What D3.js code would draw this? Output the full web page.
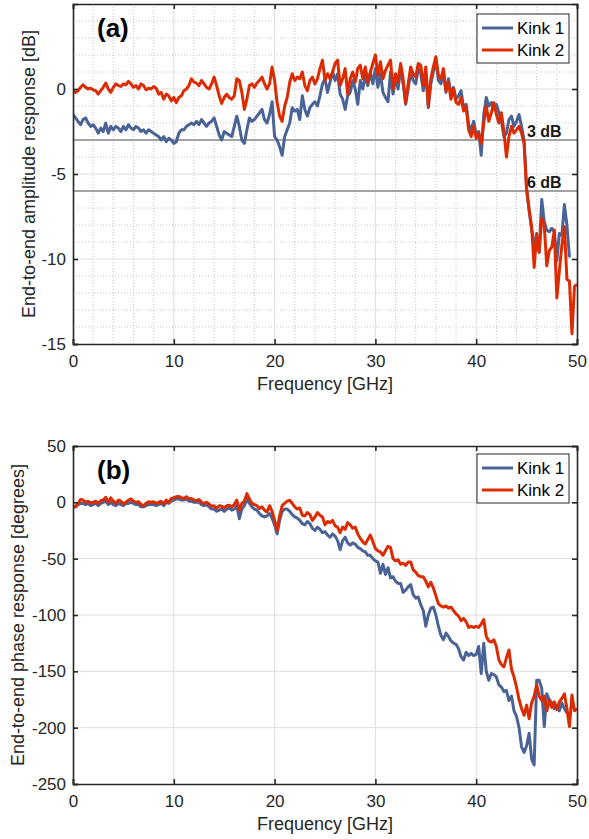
<!DOCTYPE html>
<html>
<head>
<meta charset="utf-8">
<script src="https://cdn.jsdelivr.net/npm/d3@7"></script>
<style>
  html, body { margin: 0; padding: 0; background: #fff; }
  svg { display: block; }
  text { font-family: "Liberation Sans", Arial, sans-serif; fill: #262626; }
</style>
</head>
<body>
<svg id="chart" width="589" height="839"></svg>
<script>
// Frequency step of the measured traces [GHz]
const freqStep = 0.25;

// Amplitude response [dB], sampled every 0.25 GHz from 0 GHz
const ampKink1 = [
  -1.5,-1.7,-1.9,-2.1, -1.8,-1.7,-2.0,-2.2, -2.1,-2.3,-2.6,-2.3, -2.5,-2.0,-2.6,-2.2,
  -2.4,-2.2,-2.3,-2.5, -2.2,-2.4,-2.1,-2.3, -2.4,-2.2,-2.3,-2.5, -2.4,-2.6,-2.4,-2.5,
  -2.6,-2.7,-2.8,-3.0, -2.8,-3.1,-2.9,-3.0, -3.2,-3.1,-2.6,-2.4, -2.4,-2.2,-2.1,-2.0,
  -2.1,-1.9,-2.1,-1.8, -2.0,-2.2,-2.0,-1.9, -1.7,-2.2,-2.7,-3.0, -2.5,-2.6,-2.7,-2.8,
  -2.2,-1.6,-2.2,-3.0, -3.2,-2.4,-1.7,-1.9, -1.8,-1.6,-1.4,-1.2, -1.8,-2.0,-1.5,-0.75,
  -2.8,-3.0,-3.4,-3.9, -2.8,-2.4,-2.0,-1.1, -1.3,-1.2,-1.8,-0.4, -1.2,-1.6,-1.1,-0.9,
  -0.75,-1.0,-0.4,0.3, 0.6,-0.2,0.4,1.0, 0.5,0.9,-0.3,-0.6, -1.2,-0.4,-0.2,0.5,
  0.0,-0.9,0.5,0.0, 0.8,0.2,1.0,0.3, 1.2,0.1,0.9,-0.2, -0.5,-0.75,1.0,-0.3,
  0.6,0.0,1.2,0.3, -0.9,0.0,1.0,0.5, 0.3,1.2,0.9,-0.1, 1.0,-1.1,0.3,1.0,
  1.7,0.5,0.3,1.0, -0.2,0.6,-0.3,0.1, -0.6,-0.4,-0.1,-1.1, -0.9,-2.1,-2.4,-1.9,
  -2.7,-2.5,-3.9,-1.5, -0.5,-1.0,-0.8,-1.2, -0.9,-1.4,-1.9,-2.8, -2.6,-1.8,-1.6,-2.2,
  -1.9,-1.5,-2.2,-3.0, -5.9,-7.1,-8.3,-9.0, -9.3,-9.6,-6.5,-7.8, -8.3,-8.4,-8.2,-8.4,
  -10.1,-8.5,-8.6,-6.8, -8.0,-9.9
];
const ampKink2 = [
  -0.1,-0.2,-0.1,0.1, 0.25,0.1,0.0,0.05, -0.05,-0.1,-0.3,-0.1, 0.1,0.35,0.0,-0.2,
  0.1,0.3,0.2,0.15, 0.3,0.25,0.45,0.3, 0.1,0.2,0.0,0.3, 0.2,-0.05,0.05,0.0,
  0.15,0.05,-0.3,-0.2, -0.6,-0.3,-0.4,-0.7, -0.5,-0.8,-0.5,-0.4, -0.1,0.0,0.2,0.6,
  0.4,0.35,0.2,0.5, 0.3,0.1,0.0,0.3, 0.7,0.2,-0.4,-0.85, -0.5,-0.3,-0.5,-0.6,
  -0.4,0.6,0.5,-0.2, -1.2,-0.6,0.2,0.3, 0.1,0.35,0.5,0.7, 0.3,0.0,0.3,1.3,
  0.5,-0.8,-1.6,-1.9, -1.0,-0.5,0.4,0.9, 0.5,0.7,0.6,1.0, 0.2,-0.1,0.5,0.7,
  0.3,0.6,1.2,1.7, 0.5,0.9,0.6,1.0, 1.5,1.7,0.2,0.6, 1.2,-0.3,0.6,1.0,
  0.4,1.2,1.4,0.6, 1.3,0.4,1.0,1.5, 2.0,0.8,1.6,0.6, 1.1,1.4,1.7,0.0,
  0.9,0.4,1.5,0.6, -0.8,0.3,1.3,0.9, 0.7,1.5,1.4,0.2, 1.3,-1.0,0.6,1.3,
  1.9,0.8,0.6,1.2, -0.1,0.4,-0.6,0.0, -0.8,-0.9,-0.5,-1.3, -1.0,-2.4,-2.8,-2.2,
  -2.9,-2.6,-3.2,-2.0, -1.0,-1.9,-1.4,-0.8, -1.5,-2.0,-1.4,-2.5, -4.0,-2.8,-2.2,-2.6,
  -2.4,-2.2,-2.6,-3.2, -5.9,-7.1,-8.1,-10.5, -8.5,-9.6,-7.6,-8.0, -10.4,-9.5,-9.3,-8.3,
  -12.3,-10.7,-9.2,-8.1, -11.2,-11.3,-14.4,-11.6, -11.5
];

// Phase response [degrees], sampled every 0.25 GHz from 0 GHz
const phaseKink1 = [
  -4,-4,-2,-1, -1,-2,-1,-3, -2,-1,-3,-1, 0,1,-2,0, -2,-3,-1,-2, -3,-1,-1,0,
  -1,-2,-2,-4, -4,-3,-2,-2, -2,-3,-2,-1, -3,0,-1,1, 2,3,3,2, 2,3,1,1,
  0,0,0,-2, -3,-2,-4,-6, -6,-8,-7,-6, -8,-6,-5,-7, -6,-3,-14.5,-6, -3,3,-1,-4,
  -6,-7,-10,-12, -13,-12,-10,-14, -20,-28,-16,-8, -6,-6,-8,-11, -13,-14,-16,-19,
  -20,-17,-19,-23, -25,-22,-24,-27, -26,-29,-31,-28, -30,-34,-42,-34, -31,-36,-38,-36,
  -37,-40,-41,-43, -44,-47,-47,-50, -52,-53,-63,-55, -64,-58,-67,-66, -70,-72,-72,-80,
  -78,-75,-73,-82, -85,-84,-91,-96, -110,-100,-94,-93, -100,-110,-118,-122,
  -116,-119,-123,-125, -126,-130,-137,-140, -133,-136,-134,-136, -135,-128,-152,-125,
  -150,-158,-152,-153, -155,-162,-164,-168, -167,-176,-172,-185, -190,-200,-217,-222,
  -216,-205,-228,-233, -158,-158,-165,-199, -170,-175,-178,-183, -180,-185,-178,-183,
  -187
];
const phaseKink2 = [
  -4,-4,-1,2.5, 2,0,1,-0.5, 0,1,-1,1.5, 2,4.5,0,4, 1,-1,2,1, -1.5,0,2,3,
  1,0,0.5,-2, -3,-1,0.5,0, 0.5,-1,0,1, -1.5,2,0,3.5, 4,5,5.3,4, 3.5,5,3,3.5,
  2,1.5,2.5,0, -1,0,-1.5,-3.5, -3,-5.3,-3,-3.5, -5,-3,-2.5,-4, -2,2,-7,-1, 1,7.7,3,-1,
  -2,-3,-5.5,-4, -7,-8.6,-3,-8, -16,-24.8,-12,-3, -1,1,1.8,-1, -4,-6,-5,-11.5,
  -12,-9,-11,-16, -13,-9,-11.5,-13, -20,-17,-18,-16, -21,-22,-27,-22, -24,-18,-20,-23,
  -22,-28,-32,-35, -37,-33,-29,-35, -41,-43,-44,-47, -43,-39,-40,-50, -52,-51,-55,-54,
  -56,-53,-53,-60, -62,-65,-66,-66, -70,-75,-71,-76, -83,-90,-92,-93,
  -92,-94,-93,-96, -99,-101,-105,-103, -106,-111,-110,-111, -110,-111,-108,-104,
  -119,-123,-124,-122, -128,-140,-144,-146, -138,-131,-148,-155, -164,-175,-183,-189,
  -180,-192,-178,-172, -162,-172,-176,-172, -185,-176,-182,-177, -184,-177,-174,-170,
  -183,-199,-171,-185, -183
];

// Axis ticks
const freqTicks = [0, 10, 20, 30, 40, 50];
const ampTicks = [-15, -10, -5, 0];
const phaseTicks = [-250, -200, -150, -100, -50, 0, 50];
const bandwidthLines = [{ level: -3, label: "3 dB" }, { level: -6, label: "6 dB" }];
const seriesNames = ["Kink 1", "Kink 2"];
const seriesColors = ["#4a6397", "#dc2b00"];

const svg = d3.select("#chart");
svg.append("rect").attr("width", 589).attr("height", 839).attr("fill", "#fff");

const plotLeft = 73, plotRight = 577;
const plainNumber = d => String(d);

function toPoints(values) {
  return values.map((v, i) => [i * freqStep, v]);
}

function drawPanel(opts) {
  const g = svg.append("g");
  const x = d3.scaleLinear().domain([0, 50]).range([plotLeft, plotRight]);
  const y = d3.scaleLinear().domain(opts.yDomain).range([opts.bottom, opts.top]);
  const clipId = "clip-" + opts.key;
  svg.append("clipPath").attr("id", clipId)
    .append("rect").attr("x", plotLeft).attr("y", opts.top)
    .attr("width", plotRight - plotLeft).attr("height", opts.bottom - opts.top);

  // minor grid (dotted)
  if (opts.minor) {
    const gm = g.append("g");
    d3.range(2, 50, 2).filter(v => v % 10 !== 0).forEach(v => {
      gm.append("line").attr("x1", x(v)).attr("x2", x(v))
        .attr("y1", opts.top).attr("y2", opts.bottom);
    });
    d3.range(opts.yDomain[0] + 1, opts.yDomain[1], 1).filter(v => v % 5 !== 0).forEach(v => {
      gm.append("line").attr("y1", y(v)).attr("y2", y(v))
        .attr("x1", plotLeft).attr("x2", plotRight);
    });
    gm.selectAll("line").attr("stroke", "#b8b8b8").attr("stroke-width", 0.8)
      .attr("stroke-dasharray", "1,2");
  }
  // major grid
  const gM = g.append("g");
  freqTicks.slice(1, -1).forEach(v => {
    gM.append("line").attr("x1", x(v)).attr("x2", x(v)).attr("y1", opts.top).attr("y2", opts.bottom);
  });
  opts.ticks.forEach(v => {
    if (y(v) > opts.top + 1 && y(v) < opts.bottom - 1)
      gM.append("line").attr("y1", y(v)).attr("y2", y(v)).attr("x1", plotLeft).attr("x2", plotRight);
  });
  gM.selectAll("line").attr("stroke", "#dedede").attr("stroke-width", 1);

  // reference levels
  if (opts.levels) {
    opts.levels.forEach(l => {
      g.append("line").attr("x1", plotLeft).attr("x2", plotRight)
        .attr("y1", y(l.level)).attr("y2", y(l.level))
        .attr("stroke", "#a3a3a3").attr("stroke-width", 2);
    });
  }

  // traces
  const line = d3.line().defined(d => d[1] != null).x(d => x(d[0])).y(d => y(d[1]));
  const lg = g.append("g").attr("clip-path", `url(#${clipId})`);
  opts.series.forEach((s, i) => {
    lg.append("path").datum(toPoints(s)).attr("d", line)
      .attr("fill", "none").attr("stroke", seriesColors[i]).attr("stroke-width", 3)
      .attr("stroke-linejoin", "round");
  });

  // level labels
  if (opts.levels) {
    opts.levels.forEach(l => {
      g.append("text").attr("x", 527).attr("y", y(l.level) - 3)
        .attr("font-size", 16).attr("font-weight", "bold")
        .style("fill", "#1a1a1a").text(l.label);
    });
  }

  // axes (box with inward ticks)
  const axisColor = "#262626";
  const ax = g.append("g");
  const bottomAxis = d3.axisBottom(x).tickValues(freqTicks).tickSize(-5).tickPadding(11)
    .tickFormat(plainNumber);
  ax.append("g").attr("transform", `translate(0,${opts.bottom})`).call(bottomAxis);
  const topAxis = d3.axisTop(x).tickValues(freqTicks).tickSize(-5).tickFormat("");
  ax.append("g").attr("transform", `translate(0,${opts.top})`).call(topAxis);
  const leftAxis = d3.axisLeft(y).tickValues(opts.ticks).tickSize(-5).tickPadding(7)
    .tickFormat(plainNumber);
  ax.append("g").attr("transform", `translate(${plotLeft},0)`).call(leftAxis);
  const rightAxis = d3.axisRight(y).tickValues(opts.ticks).tickSize(-5).tickFormat("");
  ax.append("g").attr("transform", `translate(${plotRight},0)`).call(rightAxis);
  ax.selectAll(".domain").attr("stroke", axisColor).attr("stroke-width", 1.6);
  ax.selectAll(".tick line").attr("stroke", axisColor).attr("stroke-width", 1.6);
  ax.selectAll(".tick text").attr("font-size", 17)
    .attr("font-family", '"Liberation Sans", Arial, sans-serif').style("fill", "#262626");

  // axis titles
  g.append("text").attr("x", (plotLeft + plotRight) / 2).attr("y", opts.bottom + 46)
    .attr("text-anchor", "middle").attr("font-size", 18).text("Frequency [GHz]");
  g.append("text")
    .attr("transform", `translate(${opts.yTitleX},${(opts.top + opts.bottom) / 2}) rotate(-90)`)
    .attr("text-anchor", "middle").attr("font-size", 18).text(opts.yTitle);

  // panel tag
  g.append("text").attr("x", 97).attr("y", opts.top + 33)
    .attr("font-size", 26).attr("font-weight", "bold").style("fill", "#000").text(opts.tag);

  // legend
  const lx = 477, ly = opts.top + opts.legendDy, lw = 92, lh = 49;
  const leg = g.append("g");
  leg.append("rect").attr("x", lx).attr("y", ly).attr("width", lw).attr("height", lh)
    .attr("fill", "#fff").attr("stroke", axisColor).attr("stroke-width", 1);
  seriesNames.forEach((name, i) => {
    const yy = ly + 14 + i * 22;
    leg.append("line").attr("x1", lx + 5).attr("x2", lx + 36).attr("y1", yy).attr("y2", yy)
      .attr("stroke", seriesColors[i]).attr("stroke-width", 3);
    leg.append("text").attr("x", lx + 40).attr("y", yy + 6).attr("font-size", 17)
      .style("fill", "#000").text(name);
  });
}

drawPanel({
  key: "amp", top: 4, bottom: 344, yDomain: [-15, 5], ticks: ampTicks, minor: true,
  series: [ampKink1, ampKink2], levels: bandwidthLines, tag: "(a)", legendDy: 10,
  yTitle: "End-to-end amplitude response [dB]", yTitleX: 35
});
drawPanel({
  key: "phase", top: 446, bottom: 784, yDomain: [-250, 50], ticks: phaseTicks, minor: false,
  series: [phaseKink1, phaseKink2], tag: "(b)", legendDy: 8,
  yTitle: "End-to-end phase response [degrees]", yTitleX: 24
});
</script>
</body>
</html>
